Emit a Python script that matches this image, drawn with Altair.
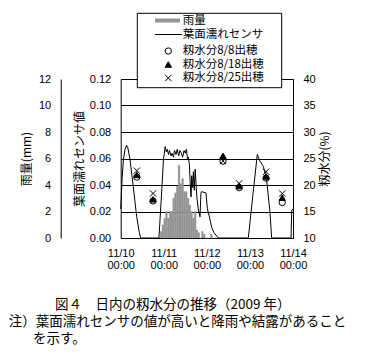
import altair as alt
import pandas as pd

# ---------------- data ----------------
series_names = ["雨量", "葉面濡れセンサ", "籾水分8/8出穂", "籾水分8/18出穂", "籾水分8/25出穂"]

# hourly rainfall (hours since 11/10 00:00), mm
rain_hour = [22, 23, 24, 25, 26, 27, 28, 29, 30, 31, 32, 33, 34, 35, 36,
             37, 38, 39, 40, 41, 42, 43, 44, 45, 46, 47, 48, 49, 50]
rain_mm = [0.5, 1.0, 1.5, 2.0, 1.5, 2.0, 2.0, 3.0, 3.4, 3.9, 5.5, 4.1, 4.5, 3.5, 3.5,
           3.0, 2.5, 2.0, 1.5, 2.0, 0.6, 0.4, 0.0, 0.5, 0.3, 0.0, 0.0, 0.0, 0.3]

# leaf wetness sensor
wet_hour = [0, 0.3, 0.8, 1.5, 2.4, 3.3, 4.0, 5.2, 7.0, 8.9, 10.4, 11.1, 21.3, 22.8,
            23.8, 24.8, 25.4, 26.0, 26.6, 27.2, 28.0, 28.6, 29.4, 30.0, 30.8, 31.5,
            32.3, 33.0, 33.8, 34.5, 35.3, 36.0, 36.6, 37.2, 37.7, 38.3, 38.7, 39.2,
            39.6, 40.1, 40.5, 41.0, 41.5, 42.0, 42.5, 43.2, 44.2, 44.7, 45.1, 47.5,
            48.3, 49.4, 50.7, 52.0, 53.5, 54.4, 71.1, 73.6, 76.1, 77.6, 79.5, 81.3,
            83.2, 84.1, 94.9, 95.3, 96]
wet_val = [0.022, 0.030, 0.045, 0.059, 0.067, 0.070, 0.068, 0.059, 0.039, 0.016, 0.004,
           0.000, 0.000, 0.034, 0.059, 0.069, 0.065, 0.067, 0.063, 0.066, 0.062, 0.064,
           0.061, 0.066, 0.063, 0.067, 0.062, 0.066, 0.064, 0.061, 0.066, 0.064, 0.067,
           0.060, 0.061, 0.055, 0.042, 0.031, 0.047, 0.038, 0.050, 0.036, 0.052, 0.040,
           0.030, 0.022, 0.016, 0.034, 0.035, 0.034, 0.022, 0.016, 0.008, 0.004, 0.0015,
           0.000, 0.000, 0.032, 0.063, 0.058, 0.054, 0.044, 0.019, 0.000, 0.000, 0.021,
           0.022]

# grain moisture (%)
moist_hour = [9, 18, 57, 66, 81, 90]
moist_88 = [21.5, 17.0, 24.5, 19.5, 21.3, 16.7]
moist_818 = [21.9, 17.3, 25.5, 19.8, 21.6, 17.6]
moist_825 = [22.7, 18.4, 24.5, 20.3, 22.5, 18.4]

x_ticks = [0, 24, 48, 72, 96]
x_tick_dates = ["11/10", "11/11", "11/12", "11/13", "11/14"]
x_tick_time = "00:00"

rain_ticks = [0, 2, 4, 6, 8, 10, 12]
wet_ticks = [0, 0.02, 0.04, 0.06, 0.08, 0.10, 0.12]
moist_ticks = [10, 15, 20, 25, 30, 35, 40]

caption = ["図４　日内の籾水分の推移（2009 年）",
           "注）葉面濡れセンサの値が高いと降雨や結露があること",
           "を示す。"]

# ---------------- tables ----------------
rain_df = pd.DataFrame({"start": rain_hour,
                        "end": [h + 1 for h in rain_hour],
                        "mm": rain_mm})
wet_df = pd.DataFrame({"hour": wet_hour, "v": wet_val})
moist_df = pd.concat([
    pd.DataFrame({"hour": moist_hour, "pct": vals, "series": name})
    for name, vals in zip(series_names[2:], [moist_88, moist_818, moist_825])
], ignore_index=True)

JP = "Noto Sans CJK JP"
GRAY = "#939393"
CROSS = "M-1,-1L1,1M-1,1L1,-1"

date_list = "[" + ",".join("'" + d + "'" for d in x_tick_dates) + "]"
x_axis = alt.Axis(values=x_ticks, title=None, grid=False, ticks=False, tickSize=0,
                  domain=False, labelFlush=False, labelOverlap=False,
                  labelPadding=9, labelLineHeight=12, labelBaseline="top",
                  labelExpr="[" + date_list + "[round(datum.value/24)], '" + x_tick_time + "']")
x_scale = alt.Scale(domain=[0, 96], nice=False, zero=False)

bars = alt.Chart(rain_df).mark_rect(color=GRAY, stroke=GRAY, strokeWidth=0.3).encode(
    x=alt.X("start:Q", scale=x_scale, axis=x_axis),
    x2="end:Q",
    y=alt.Y("mm:Q", scale=alt.Scale(domain=[0, 12], nice=False),
            axis=alt.Axis(orient="left", offset=60, values=rain_ticks, grid=False,
                          ticks=False, tickSize=0, domain=True, domainColor="black",
                          labelPadding=10, title="雨量(mm)", titlePadding=5)),
    y2=alt.datum(0),
)

line = alt.Chart(wet_df).mark_line(color="black", strokeWidth=1).encode(
    x=alt.X("hour:Q", scale=x_scale, axis=x_axis),
    y=alt.Y("v:Q", scale=alt.Scale(domain=[0, 0.12], nice=False),
            axis=alt.Axis(orient="left", values=wet_ticks, format=".2f", grid=True,
                          gridColor="black", gridWidth=1, ticks=False, tickSize=0,
                          domain=False, labelPadding=10, title="葉面濡れセンサ値",
                          titlePadding=3)),
)

points = alt.Chart(moist_df).mark_point(stroke="black", strokeWidth=1, size=40,
                                        opacity=1).encode(
    x=alt.X("hour:Q", scale=x_scale, axis=x_axis),
    y=alt.Y("pct:Q", scale=alt.Scale(domain=[10, 40], nice=False),
            axis=alt.Axis(orient="right", values=moist_ticks, grid=False, ticks=False,
                          tickSize=0, domain=False, labelPadding=10,
                          title="籾水分(%)", titleAngle=270, titleBaseline="top",
                          titlePadding=4)),
    shape=alt.Shape("series:N", scale=alt.Scale(domain=series_names[2:],
                    range=["circle", "triangle-up", CROSS]), legend=None),
    fill=alt.Fill("series:N", scale=alt.Scale(domain=series_names[2:],
                  range=["transparent", "black", "transparent"]), legend=None),
)

# ---------------- legend box ----------------
one = pd.DataFrame({"k": [0]})
leg_box = alt.Chart(one).mark_rect(fill="white", stroke="black", strokeWidth=1).encode(
    x=alt.value(16.6), x2=alt.value(161), y=alt.value(-65.7), y2=alt.value(8.7))
leg_rain = alt.Chart(one).mark_rect(color=GRAY).encode(
    x=alt.value(34.3), x2=alt.value(59.3), y=alt.value(-60.5), y2=alt.value(-56.5))
leg_line = alt.Chart(one).mark_rule(color="black", strokeWidth=1).encode(
    x=alt.value(34.3), x2=alt.value(61.3), y=alt.value(-44.5))
leg_circle = alt.Chart(one).mark_point(shape="circle", stroke="black", fill="transparent",
                                       strokeWidth=1, size=40, opacity=1).encode(
    x=alt.value(47.6), y=alt.value(-28))
leg_tri = alt.Chart(one).mark_point(shape="triangle-up", stroke="black", fill="black",
                                    strokeWidth=1, size=40, opacity=1).encode(
    x=alt.value(47.6), y=alt.value(-14.5))
leg_cross = alt.Chart(one).mark_point(shape=CROSS, stroke="black", fill="transparent",
                                      strokeWidth=1, size=40, opacity=1).encode(
    x=alt.value(47.6), y=alt.value(-1))
leg_y = [-58.5, -44.3, -28, -14.5, -1]
leg_texts = [
    alt.Chart(one).mark_text(align="left", baseline="middle", font=JP, fontSize=11.5,
                             color="black").encode(
        x=alt.value(62), y=alt.value(yy), text=alt.value(name))
    for name, yy in zip(series_names, leg_y)
]

# ---------------- caption ----------------
cap_pos = [(-65.7, 226.3), (-112, 243.3), (-87.7, 260.3)]
cap_texts = [
    alt.Chart(one).mark_text(align="left", baseline="middle", font=JP, fontSize=13.5,
                             color="black").encode(
        x=alt.value(px), y=alt.value(py), text=alt.value(t))
    for t, (px, py) in zip(caption, cap_pos)
]

chart = alt.layer(
    bars, line, points,
    leg_box, leg_rain, leg_line, leg_circle, leg_tri, leg_cross,
    *leg_texts, *cap_texts
).resolve_scale(
    y="independent", shape="independent", fill="independent"
).properties(
    width=172.3, height=159,
    autosize=alt.AutoSizeParams(type="none"),
    padding={"left": 112.7, "top": 71, "right": 65, "bottom": 114},
    background="white",
).configure_view(
    stroke="black", strokeWidth=1
).configure_axis(
    labelFont="Liberation Sans", labelFontSize=11, labelColor="black",
    titleFont=JP, titleFontSize=12, titleFontWeight="normal", titleColor="black",
)

chart.save("out.html", embed_options={"renderer": "svg", "actions": False})
